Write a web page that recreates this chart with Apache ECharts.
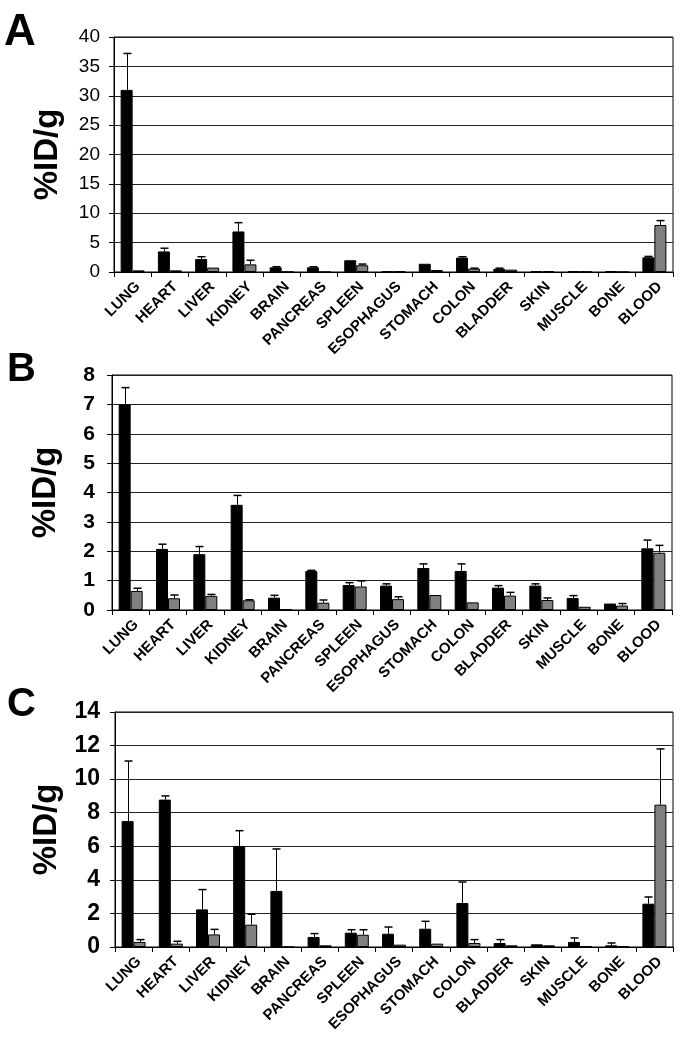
<!DOCTYPE html>
<html>
<head>
<meta charset="utf-8">
<style>
html,body{margin:0;padding:0;background:#fff;}
#chart{width:680px;height:1050px;}
</style>
<script src="https://cdn.jsdelivr.net/npm/echarts@6/dist/echarts.min.js"></script>
</head>
<body>
<div id="chart"></div>
<script>
var categories = ['LUNG','HEART','LIVER','KIDNEY','BRAIN','PANCREAS','SPLEEN','ESOPHAGUS','STOMACH','COLON','BLADDER','SKIN','MUSCLE','BONE','BLOOD'];

// Panel A
var aBlack    = [31.0, 3.5, 2.2, 6.9, 0.8, 0.8, 2.0, 0.1, 1.4, 2.45, 0.55, 0.17, 0.17, 0.15, 2.5];
var aBlackErr = [6.2, 0.55, 0.4, 1.5, 0.1, 0.1, 0, 0, 0, 0.15, 0.1, 0, 0, 0, 0.15];
var aGray     = [0.28, 0.28, 0.75, 1.3, 0.03, 0, 1.15, 0.1, 0.34, 0.57, 0.4, 0.17, 0.05, 0, 8.0];
var aGrayErr  = [0, 0, 0, 0.7, 0, 0, 0.2, 0, 0, 0.08, 0, 0, 0, 0, 0.75];

// Panel B
var bBlack    = [7.0, 2.08, 1.9, 3.58, 0.42, 1.33, 0.85, 0.83, 1.43, 1.33, 0.76, 0.83, 0.41, 0.22, 2.1];
var bBlackErr = [0.57, 0.16, 0.26, 0.32, 0.08, 0.02, 0.08, 0.06, 0.14, 0.24, 0.07, 0.06, 0.08, 0, 0.28];
var bGray     = [0.65, 0.4, 0.48, 0.33, 0.02, 0.25, 0.8, 0.37, 0.51, 0.26, 0.49, 0.34, 0.11, 0.15, 1.95];
var bGrayErr  = [0.09, 0.11, 0.05, 0.02, 0, 0.09, 0.19, 0.08, 0, 0, 0.11, 0.07, 0, 0.07, 0.25];

// Panel C
var cBlack    = [7.5, 8.78, 2.24, 6.02, 3.34, 0.6, 0.85, 0.79, 1.09, 2.62, 0.24, 0.16, 0.3, 0.1, 2.58];
var cBlackErr = [3.58, 0.22, 1.18, 0.91, 2.5, 0.2, 0.18, 0.4, 0.44, 1.25, 0.2, 0, 0.24, 0.14, 0.4];
var cGray     = [0.3, 0.2, 0.75, 1.33, 0, 0.1, 0.73, 0.14, 0.2, 0.24, 0.1, 0.1, 0.04, 0.04, 8.48];
var cGrayErr  = [0.14, 0.14, 0.3, 0.62, 0, 0, 0.3, 0, 0, 0.2, 0, 0, 0, 0, 3.32];

var yTicksA = {min: 0, max: 40, interval: 5};
var yTicksB = {min: 0, max: 8, interval: 1};
var yTicksC = {min: 0, max: 14, interval: 2};

var FONT = 'Liberation Sans, Arial, sans-serif';
var BAR_W = 12;

function errRender(offset) {
  return function (params, api) {
    var i = api.value(0), v = api.value(1), e = api.value(2);
    if (!e) return null;
    var base = api.coord([i, v]);
    var top = api.coord([i, v + e]);
    var x = Math.round(base[0] + offset) + 0.5;
    return {
      type: 'group',
      children: [
        {type: 'line', shape: {x1: x, y1: base[1], x2: x, y2: top[1]}, style: {stroke: '#000', lineWidth: 1}},
        {type: 'line', shape: {x1: x - 4, y1: top[1], x2: x + 4, y2: top[1]}, style: {stroke: '#000', lineWidth: 1.5}}
      ]
    };
  };
}

function errData(vals, errs) {
  return vals.map(function (v, i) { return [i, v, errs[i]]; });
}

var grids = [
  {left: 114, right: 7, top: 37, height: 235},
  {left: 112, right: 8, top: 375, height: 235},
  {left: 115, right: 7, top: 712, height: 235}
];
var yCfg = [
  {t: yTicksA, bold: 'normal', size: 19, margin: 14},
  {t: yTicksB, bold: 'bold', size: 21, margin: 17},
  {t: yTicksC, bold: 'bold', size: 23, margin: 15}
];
var panelData = [
  [aBlack, aBlackErr, aGray, aGrayErr],
  [bBlack, bBlackErr, bGray, bGrayErr],
  [cBlack, cBlackErr, cGray, cGrayErr]
];

var option = {
  animation: false,
  backgroundColor: '#fff',
  textStyle: {fontFamily: FONT},
  grid: grids.map(function (g) {
    return Object.assign({show: true, borderColor: '#000', borderWidth: 1, backgroundColor: 'transparent'}, g);
  }),
  xAxis: grids.map(function (g, k) {
    return {
      type: 'category', gridIndex: k, data: categories,
      axisLine: {show: true, lineStyle: {color: '#000', width: 1}},
      axisTick: {show: true, length: 5, lineStyle: {color: '#000'}},
      axisLabel: {rotate: 45, interval: 0, fontSize: 15, fontWeight: 'bold', color: '#000', fontFamily: FONT,
                  margin: 7, verticalAlign: 'top'}
    };
  }),
  yAxis: yCfg.map(function (c, k) {
    return {
      type: 'value', gridIndex: k, min: c.t.min, max: c.t.max, interval: c.t.interval,
      name: '%ID/g', nameLocation: 'middle', nameGap: 50,
      nameTextStyle: {fontSize: 33, fontWeight: 'bold', color: '#000', fontFamily: FONT},
      axisLine: {show: true, lineStyle: {color: '#000', width: 1}},
      axisTick: {show: true, length: 5, lineStyle: {color: '#000'}},
      axisLabel: {fontSize: c.size, fontWeight: c.bold, color: '#000', fontFamily: FONT, margin: c.margin},
      splitLine: {show: true, lineStyle: {color: '#222', width: 1.2}}
    };
  }),
  graphic: [
    {type: 'text', left: 4, top: 11, style: {text: 'A', font: 'bold 44px ' + FONT, fill: '#000'}},
    {type: 'text', left: 7, top: 350, style: {text: 'B', font: 'bold 40px ' + FONT, fill: '#000'}},
    {type: 'text', left: 7, top: 685, style: {text: 'C', font: 'bold 40px ' + FONT, fill: '#000'}}
  ],
  series: []
};

panelData.forEach(function (pd, k) {
  option.series.push({
    type: 'bar', xAxisIndex: k, yAxisIndex: k, data: pd[0], barWidth: BAR_W, barGap: '0%',
    itemStyle: {color: '#000', borderColor: '#000', borderWidth: 1}
  });
  option.series.push({
    type: 'bar', xAxisIndex: k, yAxisIndex: k, data: pd[2], barWidth: BAR_W, barGap: '0%',
    itemStyle: {color: '#808080', borderColor: '#000', borderWidth: 1}
  });
  option.series.push({
    type: 'custom', xAxisIndex: k, yAxisIndex: k, z: 5,
    renderItem: errRender(-BAR_W / 2), encode: {x: 0, y: 1},
    data: errData(pd[0], pd[1])
  });
  option.series.push({
    type: 'custom', xAxisIndex: k, yAxisIndex: k, z: 5,
    renderItem: errRender(BAR_W / 2), encode: {x: 0, y: 1},
    data: errData(pd[2], pd[3])
  });
});

var chart = echarts.init(document.getElementById('chart'), null, {renderer: 'canvas'});
chart.setOption(option);
</script>
</body>
</html>
